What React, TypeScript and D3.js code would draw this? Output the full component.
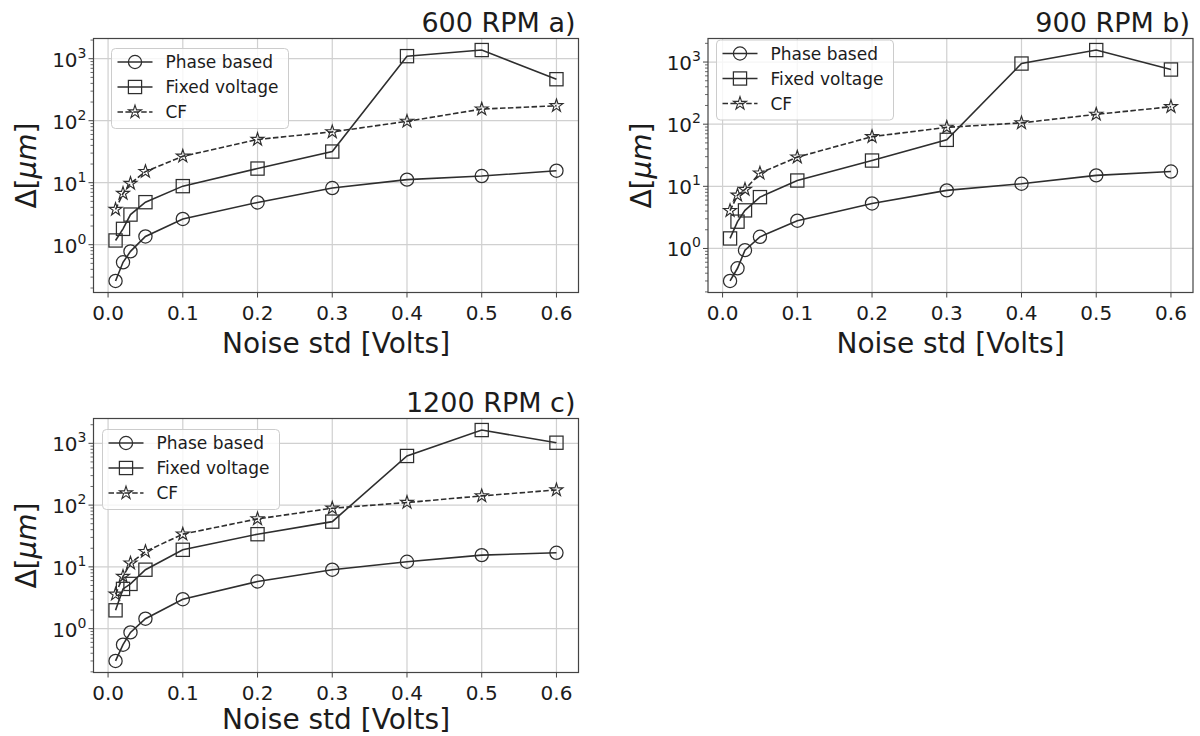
import React from 'react';
import * as d3 from 'd3';

// ---------- data ----------
const noiseStd = [0.01, 0.02, 0.03, 0.05, 0.1, 0.2, 0.3, 0.4, 0.5, 0.6];
const xTicks = [0.0, 0.1, 0.2, 0.3, 0.4, 0.5, 0.6];
const yMajorExps = [0, 1, 2, 3];
const seriesNames = ['Phase based', 'Fixed voltage', 'CF'];
const titles = ['600 RPM a)', '900 RPM b)', '1200 RPM c)'];
const xLabel = 'Noise std [Volts]';

const phase600 = [0.26, 0.52, 0.78, 1.36, 2.6, 4.8, 8.2, 11.2, 12.8, 15.6];
const fixed600 = [1.17, 1.8, 3.06, 4.85, 8.8, 16.9, 31.8, 1100, 1380, 467];
const cf600 = [3.7, 6.7, 9.7, 15.1, 26.7, 49.8, 66, 97.6, 154, 174];

const phase900 = [0.3, 0.48, 0.94, 1.54, 2.8, 5.3, 8.6, 11, 15, 17.3];
const fixed900 = [1.45, 2.7, 4.1, 6.7, 12.4, 26, 56, 946, 1560, 758];
const cf900 = [4.06, 7.2, 8.9, 16.3, 29.5, 63, 89, 105, 144, 191];

const phase1200 = [0.3, 0.55, 0.87, 1.45, 3.0, 5.8, 9.0, 12.1, 15.5, 16.9];
const fixed1200 = [1.98, 4.4, 5.3, 9.0, 18.9, 33.8, 54, 624, 1640, 1023];
const cf1200 = [3.6, 7.0, 11.5, 17.7, 33.9, 59.8, 89, 110, 141, 176];

// ---------- layout ----------
const W = 1200;
const H = 736;
const PW = 485;
const PH = 254;
const FONT = '"DejaVu Sans", sans-serif';
const INK = '#2e2e2e';
const TXT = '#1c1c1c';
const GRID = '#d0d0d0';

const panels = [
  { title: titles[0], series: [phase600, fixed600, cf600], left: 93.5, top: 38.5, lg: { dx: 18, dy: 10 }, xlOff: 60 },
  { title: titles[1], series: [phase900, fixed900, cf900], left: 708, top: 38.5, lg: { dx: 8.5, dy: 1.5 }, xlOff: 60 },
  { title: titles[2], series: [phase1200, fixed1200, cf1200], left: 93.5, top: 418.5, lg: { dx: 9, dy: 11 }, xlOff: 56.5 },
];

const markerKinds = ['circle', 'square', 'star'];

function Marker({ kind, x, y }: { kind: string; x: number; y: number }) {
  if (kind === 'circle') {
    return <circle cx={x} cy={y} r={6.6} fill="none" stroke={INK} strokeWidth={1.25} />;
  }
  if (kind === 'square') {
    return <rect x={x - 6.6} y={y - 6.6} width={13.2} height={13.2} fill="none" stroke={INK} strokeWidth={1.25} />;
  }
  const path = d3.symbol().type(d3.symbolStar).size(52)() as string;
  return <path d={path} transform={`translate(${x},${y})`} fill="none" stroke={INK} strokeWidth={1.15} />;
}

function Panel({ p }: { p: typeof panels[number] }) {
  const all = p.series.flat();
  const lo = Math.log10(d3.min(all) as number);
  const hi = Math.log10(d3.max(all) as number);
  const m = (hi - lo) * 0.05;
  const y = d3.scaleLog().domain([Math.pow(10, lo - m), Math.pow(10, hi + m)]).range([PH, 0]);
  const xm = (0.6 - 0.01) * 0.05;
  const x = d3.scaleLinear().domain([0.01 - xm, 0.6 + xm]).range([0, PW]);

  const minor: number[] = [];
  for (let e = Math.floor(lo - m); e <= Math.ceil(hi + m); e++) {
    for (let k = 2; k <= 9; k++) {
      const v = k * Math.pow(10, e);
      if (v >= y.domain()[0] && v <= y.domain()[1]) minor.push(v);
    }
  }
  const majors = yMajorExps.filter((e) => {
    const v = Math.pow(10, e);
    return v >= y.domain()[0] && v <= y.domain()[1];
  });

  const line = d3
    .line<number>()
    .x((_, i) => x(noiseStd[i]))
    .y((d) => y(d));

  return (
    <g transform={`translate(${p.left},${p.top})`} fontFamily={FONT}>
      {/* grid */}
      {xTicks.map((t) => (
        <line key={'gx' + t} x1={x(t)} x2={x(t)} y1={0} y2={PH} stroke={GRID} strokeWidth={1.2} />
      ))}
      {majors.map((e) => (
        <line key={'gy' + e} x1={0} x2={PW} y1={y(Math.pow(10, e))} y2={y(Math.pow(10, e))} stroke={GRID} strokeWidth={1.2} />
      ))}
      {/* series */}
      {p.series.map((s, si) => (
        <g key={'s' + si}>
          <path
            d={line(s) as string}
            fill="none"
            stroke={INK}
            strokeWidth={1.6}
            strokeDasharray={si === 2 ? '5.5,2.4' : undefined}
          />
          {s.map((v, i) => (
            <Marker key={i} kind={markerKinds[si]} x={x(noiseStd[i])} y={y(v)} />
          ))}
        </g>
      ))}
      {/* frame */}
      <rect x={0} y={0} width={PW} height={PH} fill="none" stroke="#444" strokeWidth={1.2} />
      {/* x ticks */}
      {xTicks.map((t) => (
        <g key={'xt' + t}>
          <line x1={x(t)} x2={x(t)} y1={PH} y2={PH + 5} stroke="#444" strokeWidth={1} />
          <text x={x(t)} y={PH + 27} fontSize={20} textAnchor="middle" fill={TXT}>
            {d3.format('.1f')(t)}
          </text>
        </g>
      ))}
      {/* y ticks */}
      {minor.map((v, i) => (
        <line key={'mn' + i} x1={-3} x2={0} y1={y(v)} y2={y(v)} stroke="#444" strokeWidth={0.8} />
      ))}
      {majors.map((e) => (
        <g key={'yt' + e}>
          <line x1={-5} x2={0} y1={y(Math.pow(10, e))} y2={y(Math.pow(10, e))} stroke="#444" strokeWidth={1} />
          <text x={-7} y={y(Math.pow(10, e)) + 8} fontSize={20} textAnchor="end" fill={TXT}>
            10
            <tspan fontSize={14} dy={-9}>
              {String(e)}
            </tspan>
          </text>
        </g>
      ))}
      {/* title */}
      <text x={PW - 3} y={-7} fontSize={27} textAnchor="end" fill={TXT}>
        {p.title}
      </text>
      {/* x label */}
      <text x={PW / 2} y={PH + p.xlOff} fontSize={28} textAnchor="middle" fill={TXT}>
        {xLabel}
      </text>
      {/* y label */}
      <text transform={`translate(${-57.5},${PH / 2}) rotate(-90)`} fontSize={28} textAnchor="middle" fill={TXT}>
        Δ[<tspan fontStyle="italic">μm</tspan>]
      </text>
      {/* legend */}
      <g transform={`translate(${p.lg.dx},${p.lg.dy})`}>
        <rect x={0} y={0} width={177} height={80} rx={4} fill="white" fillOpacity={0.8} stroke="#ccc" strokeWidth={1} />
        {seriesNames.map((name, i) => {
          const cy = 13.5 + i * 25;
          return (
            <g key={name}>
              <line x1={6} x2={41} y1={cy} y2={cy} stroke={INK} strokeWidth={1.5} strokeDasharray={i === 2 ? '5.5,2.4' : undefined} />
              <Marker kind={markerKinds[i]} x={23.5} y={cy} />
              <text x={54} y={cy + 6} fontSize={17} fill={TXT}>
                {name}
              </text>
            </g>
          );
        })}
      </g>
    </g>
  );
}

export default function App() {
  return (
    <svg width={W} height={H} style={{ position: 'absolute', left: 0, top: 0, background: 'white' }}>
      <rect x={0} y={0} width={W} height={H} fill="white" />
      {panels.map((p, i) => (
        <Panel key={i} p={p} />
      ))}
    </svg>
  );
}
